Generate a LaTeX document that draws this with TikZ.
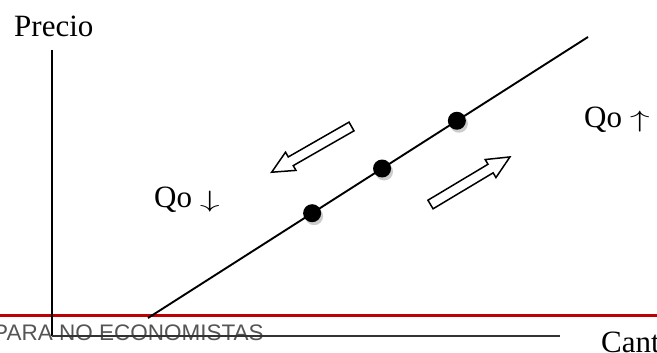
\documentclass[tikz,border=0pt]{standalone}
\usepackage{fontspec}
\setmainfont{Liberation Serif}
\newfontfamily\bannerfont{Liberation Sans}
\usepackage{xcolor}
\usepackage{tikz}
\usetikzlibrary{positioning, shapes, shadows}
\definecolor{bannerred}{RGB}{192,0,0}
\definecolor{bannergray}{RGB}{85,85,85}
\definecolor{axisgray}{RGB}{50,50,50}
\newcommand{\qoarrow}[1]{\scalebox{1.6}[0.95]{$#1$}}

\begin{document}
\begin{tikzpicture}[x=1pt, y=1pt]
    \tikzstyle{axtext} = [inner sep=0pt, font=\fontsize{31}{36}\selectfont]
    \tikzstyle{axis} = [line width=2pt]
    \tikzstyle{dot} = [circle, fill=black, inner sep=0pt, minimum size=18pt, drop shadow={shadow xshift=2pt, shadow yshift=-3pt, fill=black!20, opacity=1}]
    \tikzstyle{hollow} = [draw, line width=1.5pt, fill=white, line join=miter]

    \clip (0,0) rectangle (657,353);

    % banner line
    \draw [bannerred, line width=2.8pt] (0,37.3) -- (657,37.3);
    \node [anchor=base west, inner sep=0pt, text=bannergray, font=\bannerfont\fontsize{22.5}{26}\selectfont] (banner) at (-7,12.3) {PARA NO ECONOMISTAS};

    % axes
    \coordinate (origin) at (52,17);
    \coordinate (ytop) at (52,303);
    \coordinate (xend) at (560,17);
    \draw [axis] (ytop) -- (origin);
    \draw [axis, axisgray] (origin) -- (xend);
    \node [axtext, anchor=base west] (precio) at (14,316) {Precio};
    \node [axtext, anchor=base west] (cantidad) at (601,0) {Cantidad};

    % supply line
    \coordinate (slow) at (148,35);
    \coordinate (shigh) at (588,316);
    \draw [line width=1.9pt] (slow) -- (shigh);
    \path (slow) -- (shigh)
        node [dot, pos=0.373] (d1) {}
        node [dot, pos=0.532] (d2) {}
        node [dot, pos=0.702] (d3) {};

    % movements
    \coordinate (downtail) at (351.5,226.5);
    \coordinate (uptail) at (430.5,148.5);
    \begin{scope}[shift={(downtail)}, rotate=209.8]
        \draw [hollow] (0,-5) -- (70,-5) -- (70,-10.5) -- (92,0) -- (70,10.5) -- (70,5) -- (0,5) -- cycle;
    \end{scope}
    \begin{scope}[shift={(uptail)}, rotate=30.9]
        \draw [hollow] (0,-5) -- (70,-5) -- (70,-10.5) -- (92.6,0) -- (70,10.5) -- (70,5) -- (0,5) -- cycle;
    \end{scope}
    \node [axtext, anchor=base west] (qodown) at (154,145) {Qo \qoarrow{\downarrow}};
    \node [axtext, anchor=base west] (qoup) at (584,225) {Qo \qoarrow{\uparrow}};
\end{tikzpicture}
\end{document}
